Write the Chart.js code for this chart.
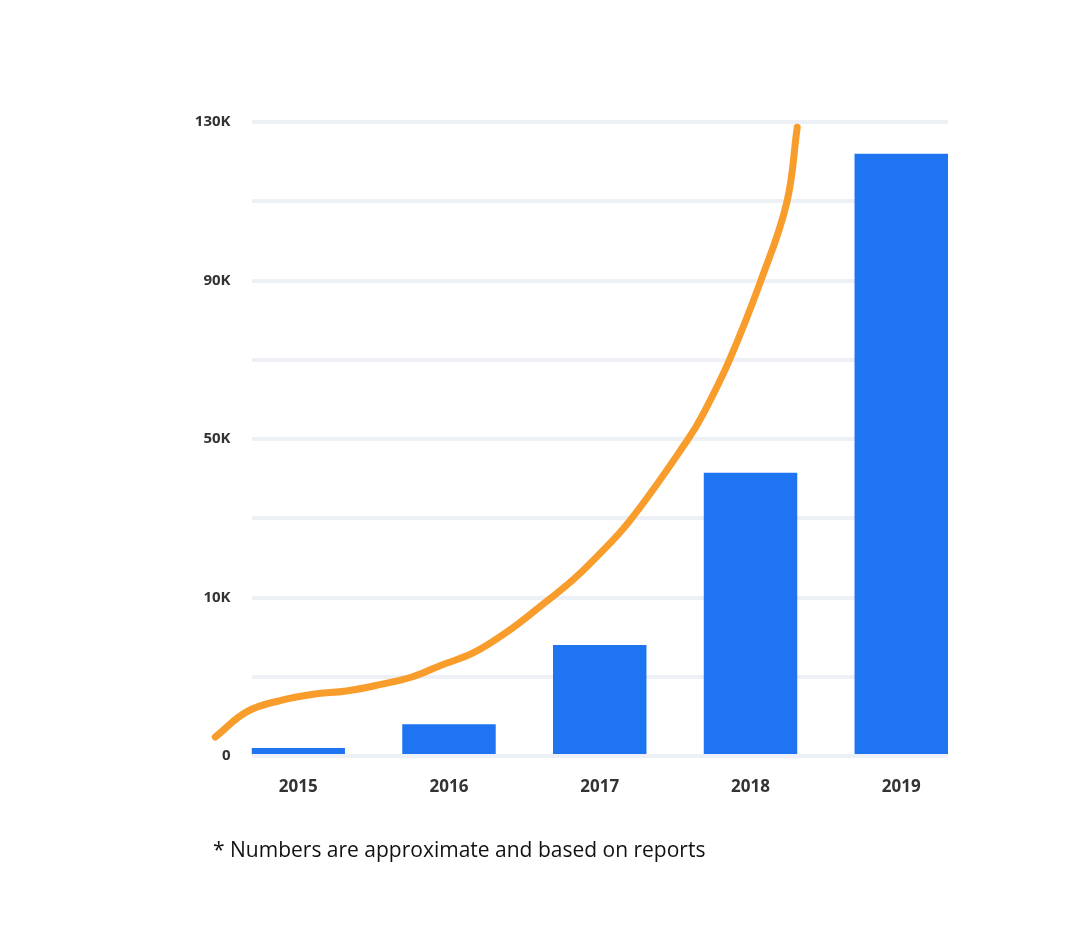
<!DOCTYPE html>
<html>
<head>
<meta charset="utf-8">
<script src="https://cdn.jsdelivr.net/npm/chart.js@4.4.1/dist/chart.umd.min.js"></script>
<style>
  body { margin: 0; background: #fff; }
  #wrap { position: relative; width: 1089px; height: 951px; }
  #note {
    position: absolute; left: 213px; top: 835px;
    font-family: 'Open Sans', sans-serif; font-size: 21px; line-height: 28px;
    color: #111; white-space: nowrap;
  }
</style>
</head>
<body>
<div id="wrap">
  <canvas id="chart" width="1089" height="951"></canvas>
  <div id="note"></div>
</div>
<script>
const years = [2015, 2016, 2017, 2018, 2019];
const users = [500, 2000, 7000, 41500, 122000];

// the value axis is not linear: each step between these ticks gets the same height
const yTickValues = [0, 10000, 50000, 90000, 130000];
const yTickLabels = ['0', '10K', '50K', '90K', '130K'];

// orange trend curve
const trendYears = [2014.45, 2014.66, 2014.88, 2015.10, 2015.32, 2015.54, 2015.76, 2015.94, 2016.16, 2016.38,
  2016.60, 2016.82, 2016.96, 2017.20, 2017.58, 2017.69, 2017.86, 2018.07, 2018.24, 2018.31];
const trendValues = [1200, 2800, 3500, 3900, 4100, 4500, 5000, 5700, 6500, 7800,
  9400, 14400, 19500, 29400, 49600, 56600, 69900, 90100, 109600, 128700];

const footnote = '* Numbers are approximate and based on reports';

document.getElementById('note').textContent = footnote;

// value -> axis units (2 grid steps per labelled interval)
function toUnits(v){
  for(let i = 0; i < yTickValues.length - 1; i++){
    const a = yTickValues[i], b = yTickValues[i+1];
    if(v <= b || i == yTickValues.length - 2){
      return 2*i + 2*(v - a)/(b - a);
    }
  }
  return 0;
}

const half = 0.31; // half a bar, in years

const ctx = document.getElementById('chart');

const config = {
  type: 'bar',
  data: {
    datasets: [
      {
        type: 'line',
        label: 'trend',
        data: trendYears.map((x,i) => ({x: x, y: toUnits(trendValues[i])})),
        borderColor: '#f89d2b',
        borderWidth: 7,
        borderCapStyle: 'round',
        borderJoinStyle: 'round',
        pointRadius: 0,
        tension: 0.4,
        clip: false,
        order: 0
      },
      {
        label: 'users',
        data: years.map((x,i) => ({x: x, y: toUnits(users[i])})),
        backgroundColor: '#1f74f2',
        borderWidth: 0,
        barPercentage: 0.62,
        categoryPercentage: 1,
        order: 1
      }
    ]
  },
  options: {
    responsive: false,
    animation: false,
    layout: {
      padding: { left: 0, top: 122, right: 141, bottom: 145 }
    },
    plugins: {
      legend: { display: false },
      tooltip: { enabled: false }
    },
    scales: {
      x: {
        type: 'linear',
        offset: false,
        bounds: 'data',
        // range set here (not via min/max) so the curve that starts left of the axis is still drawn
        afterDataLimits: (s) => {
          s.min = years[0] - half;
          s.max = years[years.length-1] + half;
        },
        grid: { display: false },
        border: { display: false },
        afterBuildTicks: (s) => { s.ticks = years.map(v => ({value: v})); },
        afterFit: (s) => { s.height = 50; },
        ticks: {
          padding: 13,
          color: '#333',
          font: { family: 'Open Sans', size: 17, weight: 'bold' },
          callback: (v) => String(v)
        }
      },
      y: {
        min: 0,
        max: 2*(yTickValues.length-1),
        grid: { color: '#edf0f5', lineWidth: 4, drawTicks: false },
        border: { display: false },
        afterBuildTicks: (s) => {
          const t = [];
          for(let i = 0; i <= 2*(yTickValues.length-1); i++) t.push({value: i});
          s.ticks = t;
        },
        afterFit: (s) => { s.width = 251.5; },
        ticks: {
          padding: 21,
          color: '#333',
          font: { family: 'Open Sans', size: 15, weight: 'bold' },
          callback: (v) => v % 2 === 0 ? yTickLabels[v/2] : ''
        }
      }
    }
  }
};

const myChart = new Chart(ctx, config);
</script>
</body>
</html>
